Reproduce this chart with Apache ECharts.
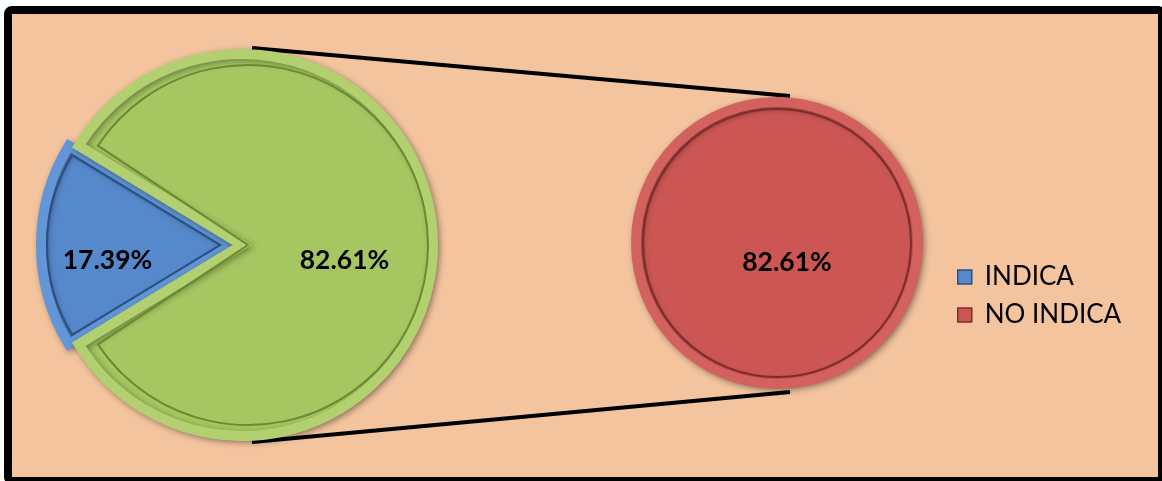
<!DOCTYPE html>
<html>
<head>
<meta charset="utf-8">
<script src="https://cdn.jsdelivr.net/npm/echarts@6/dist/echarts.min.js"></script>
<style>
html, body { margin: 0; padding: 0; background: #fff; }
#chart { width: 1162px; height: 481px; }
</style>
</head>
<body>
<div id="chart"></div>
<script>
// datos
var categories = ['INDICA', 'NO INDICA']
var values = [17.39, 82.61]
var otherName = 'Otro'          // porcion agrupada del primer grafico
var secondPie = ['NO INDICA']   // lo que va en el segundo circulo
var secondValues = [82.61]

var peach = '#F3C49E'
var blue = '#5689CB', blueLip = '#6396D6', blueDark = '#2C4F82'
var green = '#A6C661', greenLip = '#B2D070', greenDark = '#6A8A31'
var red = '#CC5654', redLip = '#D3625F', redDark = '#7E2C2A'

// geometria de los dos circulos
var leftC = [242, 245], leftR = 196, explode = 10
var rightC = [777, 243], rightR = 146
var lip = 10

var otherValue = secondValues.reduce(function (a, b) { return a + b }, 0)
var total = values[0] + otherValue
var blueAngle = values[0] / total * 360
var start = 180 + blueAngle / 2
var delta = 2.2  // grados que se mete la linea interior del verde

var labelFont = { fontFamily: 'Lato', fontWeight: 'bold', fontSize: 26.5, color: '#000' }
var shadow = { shadowBlur: 6, shadowColor: 'rgba(0,0,0,0.35)', shadowOffsetX: 2, shadowOffsetY: 2 }
var clear = { color: 'rgba(0,0,0,0)', borderWidth: 0, shadowBlur: 0 }

var blueLabel = Object.assign({ show: true, formatter: values[0].toFixed(2) + '%', offset: [-26, 15] }, labelFont)

var chart = echarts.init(document.getElementById('chart'))
var option = {
    backgroundColor: '#fff',
    animation: false,
    legend: {
        orient: 'vertical',
        left: 952,
        top: 259,
        selectedMode: false,
        icon: 'rect',
        itemWidth: 14,
        itemHeight: 14,
        itemGap: 12,
        textStyle: { fontFamily: 'Lato', fontSize: 26, color: '#000', lineHeight: 26, padding: [0, 0, 0, 8] },
        data: [
            { name: categories[0], itemStyle: { color: blue, borderColor: blueDark, borderWidth: 1.5 } },
            { name: categories[1], itemStyle: { color: red, borderColor: redDark, borderWidth: 1.5 } }
        ]
    },
    graphic: [
        { type: 'rect', z: 0, silent: true, shape: { x: 8, y: 10, width: 1154, height: 471, r: 4 },
          style: { fill: peach, stroke: '#000', lineWidth: 8 } },
        { type: 'line', z: 1, silent: true,
          shape: { x1: 252, y1: leftC[1] - leftR - 1, x2: rightC[0] + 13, y2: rightC[1] - rightR - 1 },
          style: { stroke: '#000', lineWidth: 4 } },
        { type: 'line', z: 1, silent: true,
          shape: { x1: 252, y1: leftC[1] + leftR + 1, x2: rightC[0] + 13, y2: rightC[1] + rightR + 3 },
          style: { stroke: '#000', lineWidth: 4 } }
    ],
    series: [
        {
            name: 'principal',
            type: 'pie',
            center: leftC,
            radius: leftR - lip / 2,
            startAngle: start,
            selectedMode: 'single',
            selectedOffset: explode,
            avoidLabelOverlap: false,
            emphasis: { disabled: true },
            label: { show: true, position: 'inside' },
            labelLine: { show: false },
            data: [
                { name: categories[0], value: values[0], selected: true,
                  itemStyle: Object.assign({ color: blue, borderColor: blueLip, borderWidth: lip, borderJoin: 'miter' }, shadow),
                  label: blueLabel,
                  select: { label: blueLabel } },
                { name: otherName, value: otherValue,
                  itemStyle: Object.assign({ color: green, borderColor: greenLip, borderWidth: lip, borderJoin: 'miter' }, shadow),
                  label: Object.assign({ formatter: otherValue.toFixed(2) + '%', offset: [4, 15] }, labelFont) }
            ]
        },
        {
            // linea interior del bisel azul
            name: 'bisel azul',
            type: 'pie',
            silent: true,
            center: leftC,
            radius: leftR - lip - 13,
            startAngle: start,
            selectedMode: 'single',
            selectedOffset: explode + 12,
            emphasis: { disabled: true },
            label: { show: false },
            data: [
                { name: 'b1', value: values[0], selected: true,
                  itemStyle: { color: 'rgba(0,0,0,0)', borderColor: blueDark, borderWidth: 2, borderJoin: 'miter' } },
                { name: 'b2', value: otherValue, itemStyle: clear }
            ]
        },
        {
            // linea interior del bisel verde
            name: 'bisel verde',
            type: 'pie',
            silent: true,
            center: leftC,
            radius: leftR - lip - 6,
            startAngle: start - blueAngle - delta,
            selectedMode: 'single',
            selectedOffset: 6,
            emphasis: { disabled: true },
            label: { show: false },
            data: [
                { name: 'g1', value: otherValue - delta * 2 / 360 * total, selected: true,
                  itemStyle: { color: 'rgba(0,0,0,0)', borderColor: greenDark, borderWidth: 2, borderJoin: 'miter' } },
                { name: 'g2', value: values[0] + delta * 2 / 360 * total, itemStyle: clear }
            ]
        },
        {
            name: 'segundo',
            type: 'pie',
            center: rightC,
            radius: rightR - lip / 2,
            startAngle: 90,
            emphasis: { disabled: true },
            label: { show: true, position: 'center' },
            labelLine: { show: false },
            data: secondPie.map(function (n, i) {
                return { name: n, value: secondValues[i],
                    itemStyle: Object.assign({ color: red, borderColor: redLip, borderWidth: lip }, shadow),
                    label: Object.assign({ formatter: (secondValues[i] / total * 100).toFixed(2) + '%', offset: [10, 19] }, labelFont) }
            })
        },
        {
            name: 'bisel rojo',
            type: 'pie',
            silent: true,
            center: rightC,
            radius: rightR - lip - 2,
            emphasis: { disabled: true },
            label: { show: false },
            data: secondPie.map(function (n, i) {
                return { name: 'r' + i, value: secondValues[i],
                    itemStyle: { color: 'rgba(0,0,0,0)', borderColor: redDark, borderWidth: 2 } }
            })
        }
    ]
}
chart.setOption(option)
</script>
</body>
</html>
